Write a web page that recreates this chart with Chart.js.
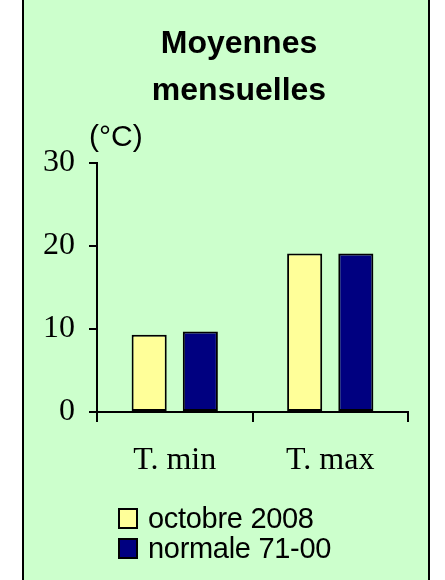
<!DOCTYPE html>
<html>
<head>
<meta charset="utf-8">
<script src="https://cdn.jsdelivr.net/npm/chart.js@4/dist/chart.umd.min.js"></script>
<style>
  html, body { margin: 0; padding: 0; background: #ffffff; width: 445px; height: 580px; overflow: hidden; }
  #frame { position: absolute; left: 22px; top: -4px; width: 404px; height: 590px; background: #CCFFCC; border: 2px solid #000; }
  #wrap { position: absolute; left: 24px; top: 0px; width: 404px; height: 580px; }
  #legend { position: absolute; left: 118px; top: 503px; font-family: 'Liberation Sans', Arial, sans-serif; font-size: 29px; color: #000; letter-spacing: -0.3px; }
  .item { height: 30px; line-height: 30px; white-space: nowrap; display: flex; align-items: center; }
  .box { width: 16px; height: 17px; border: 2px solid #000; margin-right: 10px; flex: none; }
</style>
</head>
<body>
<div id="frame"></div>
<div id="wrap"><canvas id="c" width="404" height="580"></canvas></div>
<div id="legend"></div>
<script>
const categories = ['T. min', 'T. max'];
const seriesNames = ['octobre 2008', 'normale 71-00'];
const octobre2008 = [9.3, 19.1];
const normale7100 = [9.7, 19.1];
const yTickValues = [0, 10, 20, 30];
const titleLines = ['Moyennes', 'mensuelles'];
const unitLabel = '(°C)';
const seriesColors = ['#FFFF99', '#000080'];

const textPlugin = {
  id: 'texts',
  afterDraw(chart) {
    const ctx = chart.ctx;
    const y = chart.scales.y;
    ctx.save();
    ctx.fillStyle = '#000';
    // title
    ctx.font = 'bold 32px "Liberation Sans", Arial, sans-serif';
    ctx.textAlign = 'center';
    ctx.textBaseline = 'alphabetic';
    const cx = chart.width / 2 + 13;
    titleLines.forEach((line, i) => ctx.fillText(line, cx, 53 + i * 47));
    // unit
    ctx.font = '30px "Liberation Sans", Arial, sans-serif';
    ctx.textAlign = 'left';
    ctx.textBaseline = 'middle';
    ctx.fillText(unitLabel, y.right - 8, y.top - 25);
    ctx.restore();
  }
};

const chart = new Chart(document.getElementById('c'), {
  type: 'bar',
  data: {
    labels: categories,
    datasets: [
      { label: seriesNames[0], data: octobre2008, backgroundColor: seriesColors[0], borderColor: '#000', borderWidth: 2, borderSkipped: false,
        categoryPercentage: 0.658, barPercentage: 0.686 },
      { label: seriesNames[1], data: normale7100, backgroundColor: seriesColors[1], borderColor: '#000', borderWidth: 2, borderSkipped: false,
        categoryPercentage: 0.658, barPercentage: 0.686 }
    ]
  },
  options: {
    responsive: false,
    animation: false,
    layout: { padding: { left: 0, right: 20, top: 163, bottom: 0 } },
    plugins: {
      legend: { display: false },
      tooltip: { enabled: false },
      title: { display: false }
    },
    scales: {
      x: {
        grid: { drawOnChartArea: false, drawTicks: true, tickLength: 10, color: '#000', lineWidth: 2, offset: true },
        border: { display: true, color: '#000', width: 2 },
        ticks: { color: '#000', font: { family: '"Liberation Serif", "Times New Roman", serif', size: 32 }, padding: 19, maxRotation: 0 },
        afterFit(scale) { scale.height = 168; }
      },
      y: {
        min: 0, max: 30,
        afterBuildTicks(scale) { scale.ticks = yTickValues.map(v => ({ value: v })); },
        grid: { drawOnChartArea: false, drawTicks: true, tickLength: 8, color: '#000', lineWidth: 2 },
        border: { display: true, color: '#000', width: 2 },
        ticks: { color: '#000', font: { family: '"Liberation Serif", "Times New Roman", serif', size: 32 }, padding: 14 },
        afterFit(scale) { scale.width = 73; }
      }
    }
  },
  plugins: [textPlugin]
});

const legend = document.getElementById('legend');
chart.data.datasets.forEach(ds => {
  const item = document.createElement('div');
  item.className = 'item';
  const box = document.createElement('span');
  box.className = 'box';
  box.style.background = ds.backgroundColor;
  const txt = document.createElement('span');
  txt.textContent = ds.label;
  item.appendChild(box);
  item.appendChild(txt);
  legend.appendChild(item);
});
</script>
</body>
</html>
